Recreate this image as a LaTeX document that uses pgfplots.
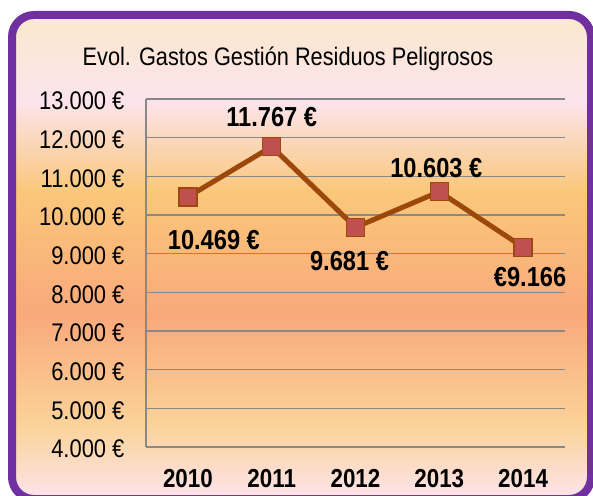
\documentclass[border=0pt]{standalone}
\usepackage{pgfplots}
\pgfplotsset{compat=1.18}
\usepackage{fontspec}
\setmainfont{Liberation Sans}[FakeStretch=0.86]
\definecolor{bgA}{HTML}{FBE8CC}
\definecolor{bgB}{HTML}{FCE4EC}
\definecolor{bgC}{HTML}{FAC77A}
\definecolor{bgD}{HTML}{F9A97B}
\definecolor{bgE}{HTML}{FBD39A}
\definecolor{bgF}{HTML}{FCE4EC}
\definecolor{frame}{HTML}{7030A0}
\definecolor{gridc}{HTML}{888888}
\definecolor{linec}{RGB}{155,72,10}
\definecolor{markf}{HTML}{C0504D}
\definecolor{markd}{HTML}{A0460F}
\pgfdeclareverticalshading{bgshade}{100bp}{color(0bp)=(bgF); color(25bp)=(bgF); color(32.5bp)=(bgE); color(44.1bp)=(bgD); color(56.7bp)=(bgC); color(66.1bp)=(bgB); color(75bp)=(bgA); color(100bp)=(bgA)}
\begin{document}
\begin{tikzpicture}[x=1pt,y=1pt]
\useasboundingbox (0,0) rectangle (593,495);
\clip (0,0) rectangle (593,495);
\path[shading=bgshade, rounded corners=22pt] (12,-4) rectangle (591,480);
\draw[frame, line width=8pt, rounded corners=22pt] (12,-4) rectangle (591,480);
\node[font=\fontsize{25.3}{28}\selectfont, anchor=base] at (288,429) {Evol. Gastos Gestión Residuos Peligrosos};
\begin{axis}[
  at={(146pt,48pt)}, anchor=south west,
  scale only axis, width=419pt, height=348pt,
  xmin=-0.5, xmax=4.5, ymin=4000, ymax=13000,
  scaled y ticks=false,
  xtick={0,1,2,3,4}, xticklabels={2010,2011,2012,2013,2014},
  ytick={4000,5000,6000,7000,8000,9000,10000,11000,12000,13000},
  yticklabels={4.000 €,5.000 €,6.000 €,7.000 €,8.000 €,9.000 €,10.000 €,11.000 €,12.000 €,13.000 €},
  axis x line*=bottom, axis y line*=left,
  axis line style={gridc, line width=1.5pt, -},
  ymajorgrids, grid style={gridc, line width=1.5pt},
  major tick length=0pt,
  yticklabel style={font=\fontsize{25.5}{28}\selectfont, xshift=-18pt, yshift=-2pt},
  xticklabel style={font=\bfseries\fontsize{26}{28}\selectfont, yshift=-19pt},
  /pgf/number format/assume math mode=true,
  clip=false,
]
\addplot[linec, line width=5pt, mark=square*, mark size=9pt,
  mark options={fill=markf, draw=markd, line width=1.5pt}]
  coordinates {(0,10469) (1,11767) (2,9681) (3,10603) (4,9166)};
\begin{scope}[every node/.style={font=\bfseries\fontsize{27.5}{30}\selectfont}]
\node at (axis cs:0,10469) [xshift=26pt, yshift=-43pt] {10.469 €};
\node at (axis cs:1,11767) [yshift=30pt] {11.767 €};
\node at (axis cs:2,9681) [xshift=-6pt, yshift=-34pt] {9.681 €};
\node at (axis cs:3,10603) [xshift=-3pt, yshift=24pt] {10.603 €};
\node at (axis cs:4,9166) [xshift=7pt, yshift=-30pt] {€9.166};
\end{scope}
\end{axis}
\end{tikzpicture}
\end{document}
